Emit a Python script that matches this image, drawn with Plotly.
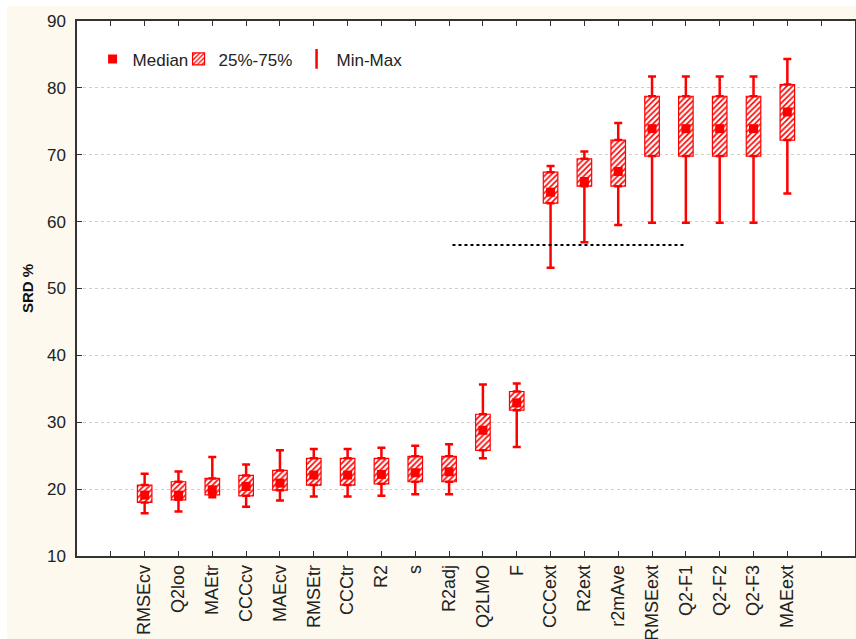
import plotly.graph_objects as go

# Descriptor names, in plotting order
categories = ['RMSEcv', 'Q2loo', 'MAEtr', 'CCCcv', 'MAEcv', 'RMSEtr', 'CCCtr', 'R2', 's',
              'R2adj', 'Q2LMO', 'F', 'CCCext', 'R2ext', 'r2mAve', 'RMSEext', 'Q2-F1',
              'Q2-F2', 'Q2-F3', 'MAEext']

# SRD % summary statistics per category
srd_min = [16.4, 16.65, 18.8, 17.35, 18.3, 18.9, 18.9, 19.0, 19.25, 19.25,
           24.6, 26.3, 53.1, 56.9, 59.5, 59.85, 59.85, 59.85, 59.85, 64.2]
srd_q1 = [18.0, 18.4, 19.15, 19.0, 19.85, 20.6, 20.6, 20.8, 21.1, 21.1,
          25.8, 31.8, 62.75, 65.3, 65.3, 69.8, 69.8, 69.8, 69.8, 72.2]
srd_median = [19.1, 19.1, 19.9, 20.4, 20.9, 22.1, 22.1, 22.2, 22.45, 22.6,
              28.8, 32.9, 64.4, 66.0, 67.5, 73.9, 73.9, 73.9, 73.9, 76.4]
srd_q3 = [20.6, 21.1, 21.6, 22.05, 22.8, 24.6, 24.6, 24.6, 24.9, 24.9,
          31.2, 34.6, 67.4, 69.4, 72.2, 78.75, 78.75, 78.75, 78.75, 80.5]
srd_max = [22.3, 22.65, 24.8, 23.7, 25.8, 26.0, 26.0, 26.2, 26.5, 26.7,
           35.65, 35.8, 68.3, 70.5, 74.75, 81.7, 81.7, 81.7, 81.7, 84.3]

# Reference level (dotted line) and the span it covers on the category axis
ref_level = 56.5
ref_span = [11.1, 18.0]

y_ticks = [10, 20, 30, 40, 50, 60, 70, 80, 90]

RED = '#FF0000'
FONT = 'Liberation Sans, Arial, sans-serif'

pos = [i + 2 for i in range(len(categories))]
tick_pos = list(range(1, len(categories) + 3))
tick_text = [''] + categories + ['']

fig = go.Figure()

# Interquartile boxes, hatched
fig.add_trace(go.Bar(
    x=pos, y=[b - a for a, b in zip(srd_q1, srd_q3)], base=srd_q1,
    width=0.43, name='25%-75%', legendrank=2, legendwidth=73,
    marker=dict(color='white', line=dict(color=RED, width=1.2),
                pattern=dict(shape='/', fgcolor=RED, bgcolor='white',
                             fillmode='replace', size=4, solidity=0.4)),
    hoverinfo='skip',
))

# Whiskers: upper part from Q3 to max, lower part from Q1 to min
wx = pos + pos
wy = srd_q3 + srd_q1
plus = [mx - q for mx, q in zip(srd_max, srd_q3)] + [0] * len(pos)
minus = [0] * len(pos) + [q - mn for q, mn in zip(srd_q1, srd_min)]
fig.add_trace(go.Scatter(
    x=wx, y=wy, mode='markers', marker=dict(size=1, opacity=0),
    error_y=dict(type='data', symmetric=False, array=plus, arrayminus=minus,
                 color=RED, thickness=2.5, width=4),
    showlegend=False, hoverinfo='skip',
))

# Legend entry for the whiskers
fig.add_trace(go.Scatter(
    x=[None], y=[None], mode='markers', name='Min-Max', legendrank=3,
    marker=dict(symbol='line-ns-open', size=14, color=RED, line=dict(color=RED, width=2.5)),
))

# Medians
fig.add_trace(go.Scatter(
    x=pos, y=srd_median, mode='markers', name='Median', legendrank=1, legendwidth=41,
    marker=dict(symbol='square', size=9, color=RED, line=dict(width=0)),
))

# Dotted reference line
fig.add_trace(go.Scatter(
    x=ref_span, y=[ref_level, ref_level], mode='lines',
    line=dict(color='black', width=2, dash='dot'),
    showlegend=False, hoverinfo='skip',
))

# Page frame: white strip along the top and left of the cream panel
fig.add_shape(type='rect', xref='paper', yref='paper', x0=-0.2, x1=1.05, y0=1.028, y1=1.1,
              fillcolor='white', line_width=0, layer='below')
fig.add_shape(type='rect', xref='paper', yref='paper', x0=-0.2, x1=-0.09, y0=-0.3, y1=1.1,
              fillcolor='white', line_width=0, layer='below')

fig.update_layout(
    width=856, height=639,
    margin=dict(l=77, r=1, t=21, b=83),
    paper_bgcolor='#FDF9EF', plot_bgcolor='white',
    font=dict(family=FONT, size=17, color='#222222'),
    barmode='overlay',
    showlegend=True,
    legend=dict(orientation='h', x=0.02, y=0.962, xanchor='left', yanchor='top',
                bgcolor='rgba(0,0,0,0)', font=dict(size=17, color='#222222'),
                itemwidth=30, tracegroupgap=0, traceorder='normal'),
    xaxis=dict(range=[0, len(categories) + 3], tickmode='array', tickvals=tick_pos,
               ticktext=tick_text, tickangle=-90, ticks='inside', ticklen=5,
               tickcolor='#333333', showgrid=False, zeroline=False, automargin=False,
               showline=True, linecolor='#333333', linewidth=1.5, mirror='ticks',
               tickfont=dict(size=18, color='#222222')),
    yaxis=dict(range=[10, 90], tickmode='array', tickvals=y_ticks, ticks='inside',
               ticklen=5, tickcolor='#333333', showgrid=True, gridcolor='#CFCFCF',
               griddash='dot', gridwidth=1, zeroline=False, showline=True,
               linecolor='#333333', linewidth=1.5, mirror='ticks', automargin=False,
               ticklabelstandoff=6,
               tickfont=dict(size=17, color='#222222'),
               title=dict(text='<b>SRD %</b>', font=dict(size=15, color='#111111'),
                          standoff=10)),
)

fig.write_html('out.html')
